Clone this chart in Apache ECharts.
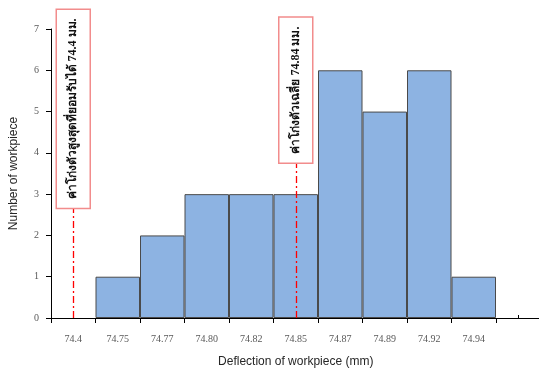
<!DOCTYPE html>
<html>
<head>
<meta charset="utf-8">
<script src="https://cdn.jsdelivr.net/npm/echarts@6/dist/echarts.min.js"></script>
<style>
html,body{margin:0;padding:0;background:#fff;}
#chart{width:539px;height:370px;}
</style>
</head>
<body>
<div id="chart"></div>
<script>
const categories = ['74.4', '74.75', '74.77', '74.80', '74.82', '74.85', '74.87', '74.89', '74.92', '74.94', ''];
const counts = [null, 1, 2, 3, 3, 3, 6, 5, 6, 1, null];
const yMin = 0, yMax = 7, yStep = 1;
const noteCats = ['74.4', '74.85'];
const noteLineTop = [2.65, 3.75];
const noteBoxTop = [7.48, 7.29];
const noteTexts = ['ค่าโก่งตัวสูงสุดที่ยอมรับได้ 74.4 มม.', 'ค่าโก่งตัวเฉลี่ย 74.84 มม.'];

const serif = "'Liberation Serif', 'Times New Roman', 'DejaVu Serif', serif";
const sans = "'Liberation Sans', Arial, sans-serif";

const chart = echarts.init(document.getElementById('chart'), null, {renderer: 'canvas'});

const markData = noteCats.map((c, i) => [
  {coord: [c, 0]},
  {coord: [c, noteLineTop[i]]}
]);

const option = {
  animation: false,
  backgroundColor: '#fff',
  grid: {left: 51, top: 29, width: 489.5, bottom: 52, containLabel: false, outerBoundsMode: 'none'},
  xAxis: [{
    type: 'category',
    data: categories,
    name: 'Deflection of workpiece (mm)',
    nameLocation: 'middle',
    nameGap: 38,
    nameTextStyle: {fontFamily: sans, fontSize: 12, color: '#262626'},
    axisLine: {lineStyle: {color: '#000', width: 1}},
    axisTick: {show: true, alignWithLabel: false, length: 5, lineStyle: {color: '#000'}},
    axisLabel: {fontFamily: serif, fontSize: 10, color: '#595959', margin: 16, interval: 0},
    splitLine: {show: false}
  }, {
    type: 'category',
    data: categories,
    position: 'bottom',
    axisLine: {show: false},
    axisTick: {show: true, inside: true, alignWithLabel: true, length: 3, lineStyle: {color: '#000'}},
    axisLabel: {show: false},
    splitLine: {show: false}
  }],
  yAxis: {
    type: 'value',
    min: yMin, max: yMax, interval: yStep,
    name: 'Number of workpiece',
    nameLocation: 'middle',
    nameGap: 31,
    nameTextStyle: {fontFamily: sans, fontSize: 12, color: '#262626'},
    axisLine: {show: true, lineStyle: {color: '#000', width: 1}},
    axisTick: {show: true, length: 5, lineStyle: {color: '#000'}},
    axisLabel: {fontFamily: serif, fontSize: 10, color: '#595959', margin: 12},
    splitLine: {show: false}
  },
  series: [{
    type: 'bar',
    data: counts,
    xAxisIndex: 0,
    barCategoryGap: '0%',
    itemStyle: {color: '#8DB3E2', borderColor: '#4A4A4A', borderWidth: 1},
    markLine: {
      silent: true,
      symbol: 'none',
      label: {show: false},
      lineStyle: {color: '#FF0000', type: [7, 3, 2, 3], width: 1.3},
      data: markData
    }
  }]
};
chart.setOption(option);

const graphics = [];
noteCats.forEach((c, i) => {
  const pTop = chart.convertToPixel({xAxisIndex: 0, yAxisIndex: 0}, [c, noteBoxTop[i]]);
  const pBot = chart.convertToPixel({xAxisIndex: 0, yAxisIndex: 0}, [c, noteLineTop[i]]);
  const h = pBot[1] - pTop[1];
  const w = 34;
  const cx = pTop[0], cy = (pTop[1] + pBot[1]) / 2;
  graphics.push({
    type: 'rect',
    shape: {x: cx - w / 2, y: pTop[1], width: w, height: h},
    style: {fill: '#fff', stroke: '#F28C8C', lineWidth: 1.5},
    z: 100
  });
  graphics.push({
    type: 'text',
    x: cx, y: cy,
    rotation: Math.PI / 2,
    style: {
      text: noteTexts[i],
      font: "bold 12px " + serif,
      fill: '#111',
      align: 'center',
      verticalAlign: 'middle'
    },
    z: 101
  });
});
chart.setOption({graphic: graphics});
</script>
</body>
</html>
